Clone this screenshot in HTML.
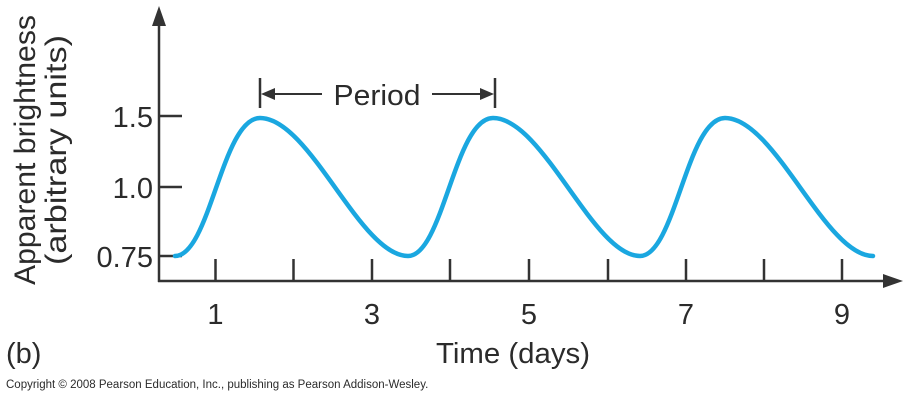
<!DOCTYPE html>
<html><head><meta charset="utf-8"><style>
html,body{margin:0;padding:0;background:#fff;}
svg{display:block;}
text{font-family:"Liberation Sans",Arial,sans-serif;fill:#2b2b2b;}
</style></head><body>
<svg width="906" height="401" viewBox="0 0 906 401">
<g stroke="#333" stroke-width="2.5" fill="none">
<line x1="159" y1="20" x2="159" y2="282"/>
<line x1="158" y1="281" x2="890" y2="281"/>
<line x1="159" y1="116" x2="182" y2="116"/>
<line x1="159" y1="187" x2="182" y2="187"/>
<line x1="159" y1="256" x2="182" y2="256"/>
<line x1="215.5" y1="259" x2="215.5" y2="281"/>
<line x1="293.5" y1="259" x2="293.5" y2="281"/>
<line x1="372" y1="259" x2="372" y2="281"/>
<line x1="450" y1="259" x2="450" y2="281"/>
<line x1="529" y1="259" x2="529" y2="281"/>
<line x1="608" y1="259" x2="608" y2="281"/>
<line x1="686" y1="259" x2="686" y2="281"/>
<line x1="764" y1="259" x2="764" y2="281"/>
<line x1="842" y1="259" x2="842" y2="281"/>
<line x1="260" y1="78" x2="260" y2="108"/>
<line x1="495" y1="78" x2="495" y2="108"/>
<line x1="266" y1="94" x2="322" y2="94" stroke-width="2"/>
<line x1="432" y1="94" x2="489" y2="94" stroke-width="2"/>
</g>
<g fill="#333">
<polygon points="159,6 152,26 166,26"/>
<polygon points="903,281 883,274 883,288"/>
<polygon points="261,94 275,88 275,100"/>
<polygon points="494,94 480,88 480,100"/>
</g>
<path d="M175,256 C210,256 222,118 260,118 C310,118 360,256 408,256 C443,256 455,118 493,118 C543,118 593,256 640,256 C675,256 687,118 725,118 C775,118 825,256 873,256" stroke="#1aa7e0" stroke-width="4.5" fill="none" stroke-linecap="round"/>
<text x="377" y="105" font-size="29" text-anchor="middle" textLength="87" lengthAdjust="spacingAndGlyphs">Period</text>
<g font-size="29" text-anchor="end">
<text x="153" y="127">1.5</text>
<text x="153" y="198">1.0</text>
<text x="153" y="267">0.75</text>
</g>
<g font-size="29" text-anchor="middle">
<text x="215.5" y="324">1</text>
<text x="372" y="324">3</text>
<text x="529" y="324">5</text>
<text x="686" y="324">7</text>
<text x="842" y="324">9</text>
</g>
<text x="513" y="363" font-size="29" text-anchor="middle" textLength="154" lengthAdjust="spacingAndGlyphs">Time (days)</text>
<text x="6" y="363" font-size="29">(b)</text>
<text transform="translate(35,150) rotate(-90)" font-size="30" text-anchor="middle" textLength="270" lengthAdjust="spacingAndGlyphs">Apparent brightness</text>
<text transform="translate(66,150) rotate(-90)" font-size="30" text-anchor="middle" textLength="230" lengthAdjust="spacingAndGlyphs">(arbitrary units)</text>
<text x="6" y="388" font-size="11.5">Copyright © 2008 Pearson Education, Inc., publishing as Pearson Addison-Wesley.</text>
</svg>
</body></html>
